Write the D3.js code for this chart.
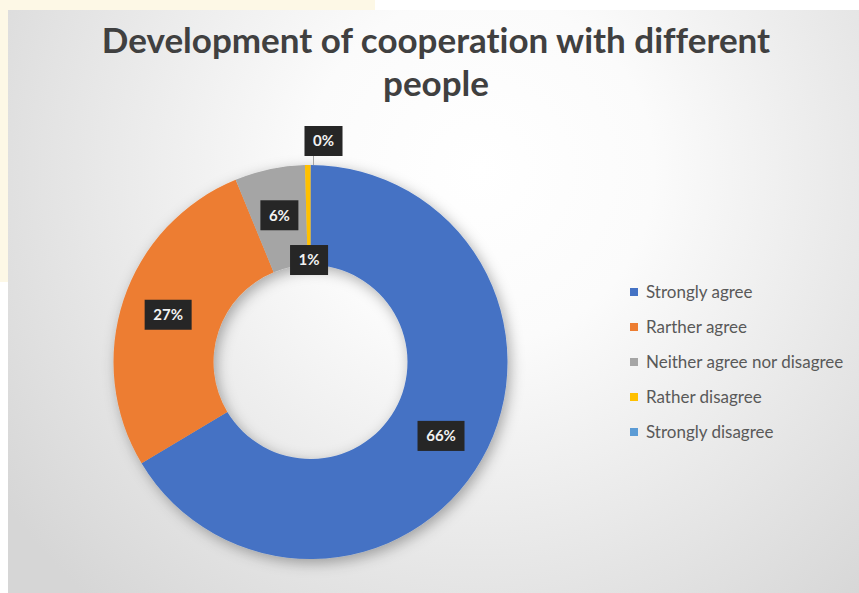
<!DOCTYPE html>
<html>
<head>
<meta charset="utf-8">
<script src="https://cdn.jsdelivr.net/npm/d3@7"></script>
<style>
  html, body { margin: 0; padding: 0; background: #ffffff; }
  svg { display: block; }
  text { font-variant-ligatures: none; }
</style>
</head>
<body>
<svg id="chart" width="859" height="593"></svg>
<script>
// ---- data ----
const categories = ["Strongly agree", "Rarther agree", "Neither agree nor disagree", "Rather disagree", "Strongly disagree"];
const values = [66.4, 27.4, 5.75, 0.45, 0];
const valueLabels = ["66%", "27%", "6%", "1%", "0%"];
const colors = ["#4472C4", "#ED7D31", "#A5A5A5", "#FFC000", "#5B9BD5"];
const titleLines = ["Development of cooperation with different", "people"];

// ---- layout ----
const W = 859, H = 593;
const svg = d3.select("#chart");
const defs = svg.append("defs");

const bg = defs.append("radialGradient").attr("id", "bgGrad")
  .attr("gradientUnits", "userSpaceOnUse")
  .attr("cx", 480).attr("cy", 170).attr("r", 580);
bg.append("stop").attr("offset", "0%").attr("stop-color", "#ffffff");
bg.append("stop").attr("offset", "30%").attr("stop-color", "#fbfbfb");
bg.append("stop").attr("offset", "100%").attr("stop-color", "#d6d6d6");

const shadow = defs.append("filter").attr("id", "shadow")
  .attr("x", "-20%").attr("y", "-20%").attr("width", "140%").attr("height", "140%");
shadow.append("feDropShadow").attr("dx", 3).attr("dy", 4).attr("stdDeviation", 7)
  .attr("flood-color", "#000").attr("flood-opacity", 0.32);

const boxShadow = defs.append("filter").attr("id", "boxBlur")
  .attr("x", "-20%").attr("y", "-20%").attr("width", "140%").attr("height", "140%");
boxShadow.append("feGaussianBlur").attr("stdDeviation", 0.6);

// cream backdrop in the top-left corner
svg.append("rect").attr("x", -30).attr("y", -30).attr("width", 405).attr("height", 312)
  .attr("rx", 26).attr("fill", "#fdf8e6");

// chart area
svg.append("rect").attr("x", 8).attr("y", 10).attr("width", W - 8).attr("height", H - 10)
  .attr("fill", "url(#bgGrad)");

// title
const title = svg.append("text")
  .attr("text-anchor", "middle")
  .attr("font-family", "Lato, 'Open Sans', sans-serif")
  .attr("font-weight", "bold")
  .attr("font-size", 35)
  .attr("fill", "#404040");
title.selectAll("tspan").data(titleLines).join("tspan")
  .attr("x", 436)
  .attr("y", (d, i) => 53 + i * 43)
  .text(d => d);

// donut
const cx = 310.5, cy = 362, outerR = 197, innerR = 97;
const g = svg.append("g").attr("transform", `translate(${cx},${cy})`);
const pie = d3.pie().sort(null).value(d => d.value);
const arcs = pie(categories.map((c, i) => ({ cat: c, value: values[i], i })));
const arc = d3.arc().innerRadius(innerR).outerRadius(outerR);

const ring = g.append("g").attr("filter", "url(#shadow)");
ring.selectAll("path").data(arcs).join("path")
  .attr("d", arc)
  .attr("fill", d => colors[d.data.i]);

// data labels
const midArc = d3.arc().innerRadius((innerR + outerR) / 2 + 3).outerRadius((innerR + outerR) / 2 + 3);
function labelPos(d) {
  const i = d.data.i;
  const a = (d.startAngle + d.endAngle) / 2;
  if (i === 3) { // tiny slice: label pushed to inner edge
    return [Math.sin(a) * 102, -Math.cos(a) * 102];
  }
  if (i === 4) { // zero slice: label above the ring
    return [Math.sin(a) * 221 + 13, -Math.cos(a) * 221];
  }
  return midArc.centroid(d);
}

// leader line for the outside label
const d0 = arcs[4];
const p0 = labelPos(d0);
g.append("line")
  .attr("x1", p0[0] - 10).attr("y1", p0[1] + 14)
  .attr("x2", p0[0] - 10).attr("y2", -outerR)
  .attr("stroke", "#a6a6a6").attr("stroke-width", 1);

const lab = g.selectAll("g.lab").data(arcs).join("g").attr("class", "lab")
  .attr("transform", d => { const p = labelPos(d); return `translate(${p[0]},${p[1]})`; });
lab.append("rect")
  .attr("x", d => -(valueLabels[d.data.i].length === 3 ? 47 : 38) / 2)
  .attr("y", -15)
  .attr("width", d => valueLabels[d.data.i].length === 3 ? 47 : 38)
  .attr("height", 30)
  .attr("fill", "#262626")
  .attr("filter", "url(#boxBlur)");
lab.append("text")
  .attr("text-anchor", "middle")
  .attr("dy", "0.36em")
  .attr("font-family", "Lato, 'Open Sans', sans-serif")
  .attr("font-weight", "bold")
  .attr("font-size", 15)
  .attr("fill", "#f2f2f2")
  .text(d => valueLabels[d.data.i]);

// legend
const legend = svg.append("g");
const ly = d3.scalePoint().domain(categories).range([292, 432]);
const items = legend.selectAll("g").data(categories).join("g")
  .attr("transform", d => `translate(630,${ly(d)})`);
items.append("rect").attr("x", 0).attr("y", -4).attr("width", 8).attr("height", 8)
  .attr("fill", (d, i) => colors[i]);
items.append("text")
  .attr("x", 16).attr("dy", "0.35em")
  .attr("font-family", "Lato, 'Open Sans', sans-serif")
  .attr("font-size", 17)
  .attr("fill", "#595959")
  .text(d => d);
</script>
</body>
</html>
